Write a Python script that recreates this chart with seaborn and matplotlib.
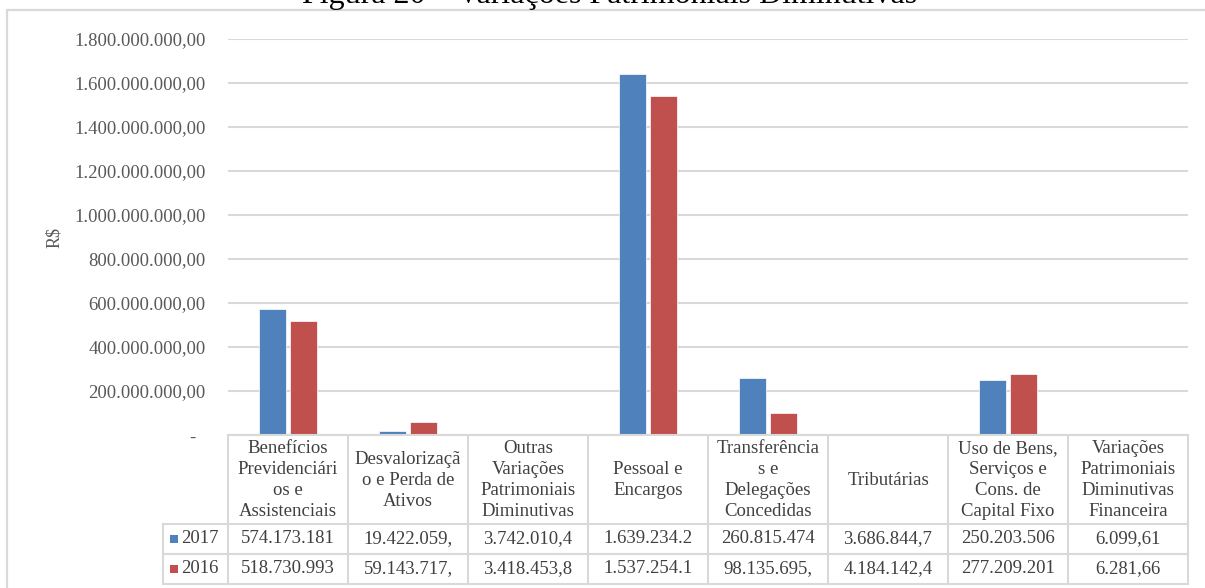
import numpy as np
import pandas as pd
import seaborn as sns
import matplotlib.pyplot as plt
from matplotlib.lines import Line2D
from matplotlib.patches import Rectangle

# data
categories = ["Benefícios\nPrevidenciári\nos e\nAssistenciais",
              "Desvalorizaçã\no e Perda de\nAtivos",
              "Outras\nVariações\nPatrimoniais\nDiminutivas",
              "Pessoal e\nEncargos",
              "Transferência\ns e\nDelegações\nConcedidas",
              "Tributárias",
              "Uso de Bens,\nServiços e\nCons. de\nCapital Fixo",
              "Variações\nPatrimoniais\nDiminutivas\nFinanceira"]
years = ["2017", "2016"]
vals_2017 = [574173181, 19422059, 3742010.4, 1639234200, 260815474, 3686844.7, 250203506, 6099.61]
vals_2016 = [518730993, 59143717, 3418453.8, 1537254100, 98135695, 4184142.4, 277209201, 6281.66]
# text shown in the data table (truncated as in the source)
table_2017 = ["574.173.181", "19.422.059,", "3.742.010,4", "1.639.234.2", "260.815.474", "3.686.844,7", "250.203.506", "6.099,61"]
table_2016 = ["518.730.993", "59.143.717,", "3.418.453,8", "1.537.254.1", "98.135.695,", "4.184.142,4", "277.209.201", "6.281,66"]
yticks = np.arange(0, 1.8e9 + 1, 2e8)
title = "Figura 20 – Variações Patrimoniais Diminutivas"

colors = ["#4F81BD", "#C0504D"]
grid_c = "#D9D9D9"
txt_c = "#404040"
tick_c = "#595959"

df = pd.DataFrame({
    "cat": categories * 2,
    "year": [years[0]] * 8 + [years[1]] * 8,
    "val": vals_2017 + vals_2016,
})

sns.set_style("white")
plt.rcParams["font.family"] = ["Liberation Serif", "DejaVu Serif"]

W, H = 1205, 588
fig = plt.figure(figsize=(W / 100, H / 100), dpi=100)


def fx(x):
    return x / W


def fy(y):
    return 1 - y / H


ax_l, ax_r, ax_t, ax_b = 228, 1188, 38.5, 435
ax = fig.add_axes([fx(ax_l), fy(ax_b), (ax_r - ax_l) / W, (ax_b - ax_t) / H])
sns.barplot(data=df, x="cat", y="val", hue="year", hue_order=years, order=categories,
            palette=colors, saturation=1, width=0.52, gap=0.12, edgecolor="white", linewidth=0.5,
            legend=False, ax=ax, zorder=3)

ax.set_xlim(-0.5, len(categories) - 0.5)
ax.set_ylim(0, 1.8e9)
ax.set_yticks(yticks)


def br_fmt(v):
    if v == 0:
        return "-  "
    return f"{v:,.2f}".replace(",", "X").replace(".", ",").replace("X", ".")


ax.set_yticklabels([br_fmt(v) for v in yticks])
ax.tick_params(axis="y", length=0, pad=16, labelsize=13.5, labelcolor=tick_c)
ax.set_xticks([])
ax.set_xlabel("")
ax.set_ylabel("")
for s in ax.spines.values():
    s.set_visible(False)
ax.yaxis.grid(True, color=grid_c, linewidth=1.5, zorder=0)
ax.set_axisbelow(True)

fig.text(fx(55), fy(237), "R$", rotation=90, ha="center", va="center", fontsize=13, color=tick_c)

# title, cut off by the top edge as in the source
fig.text(fx(610), fy(3), title, ha="center", va="baseline", fontsize=23, color="black")

# outer chart frame
fig.add_artist(Line2D([fx(7), fx(W)], [fy(9.5), fy(9.5)], color=grid_c, lw=1.6))
fig.add_artist(Line2D([fx(7), fx(7)], [fy(9.5), fy(H)], color=grid_c, lw=1.6))

# data table
ncol = len(categories)
colw = (ax_r - ax_l) / ncol
r0, r1, r2, r3 = 435, 523.5, 553.5, 583.5
lab_l = 163
tl = dict(color=grid_c, lw=1.5)
fig.add_artist(Line2D([fx(ax_l), fx(ax_r)], [fy(r0), fy(r0)], **tl))
for r in (r1, r2, r3):
    fig.add_artist(Line2D([fx(lab_l), fx(ax_r)], [fy(r), fy(r)], **tl))
fig.add_artist(Line2D([fx(lab_l), fx(lab_l)], [fy(r1), fy(r3)], **tl))
for i in range(ncol + 1):
    x = ax_l + i * colw
    fig.add_artist(Line2D([fx(x), fx(x)], [fy(r0), fy(r3)], **tl))

for i, cat in enumerate(categories):
    cx = ax_l + (i + 0.5) * colw
    fig.text(fx(cx), fy((r0 + r1) / 2 + 1), cat, ha="center", va="center", multialignment="center",
             fontsize=13.5, color=txt_c, linespacing=1.32)
    fig.text(fx(cx), fy((r1 + r2) / 2), table_2017[i], ha="center", va="center", fontsize=13.5, color=txt_c)
    fig.text(fx(cx), fy((r2 + r3) / 2), table_2016[i], ha="center", va="center", fontsize=13.5, color=txt_c)

for yr, c, (ra, rb) in zip(years, colors, [(r1, r2), (r2, r3)]):
    cy = (ra + rb) / 2
    fig.add_artist(Rectangle((fx(170), fy(cy + 4)), 8 / W, 8 / H, transform=fig.transFigure,
                             facecolor=c, edgecolor="none"))
    fig.text(fx(181), fy(cy), yr, ha="left", va="center", fontsize=13.5, color=txt_c)

fig.savefig("out.png", dpi=100)
